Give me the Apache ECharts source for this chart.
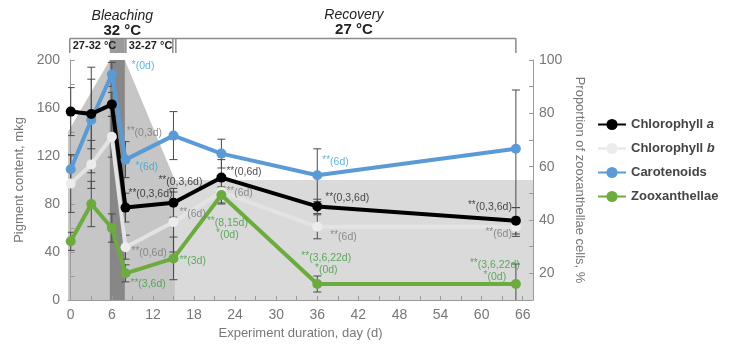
<!DOCTYPE html>
<html><head><meta charset="utf-8">
<script src="https://cdn.jsdelivr.net/npm/echarts@6/dist/echarts.min.js"></script>
<style>html,body{margin:0;padding:0;background:#fff}#c{width:731px;height:348px}</style>
</head><body><div id="c"></div>
<script>
// ---------- data ----------
const days = [0, 3, 6, 8, 15, 22, 36, 65];
const chlA = [157, 155, 163, 77, 81, 102, 78, 66];
const chlAErr = [20, 29, 10, 12, 12, 15, 6, 11];
const chlB = [97, 113, 136, 44, 65, 90, 61, 61];
const chlBErr = [24, 20, 17, 10, 25, 10, 10, 8];
const carot = [109, 150, 188, 117, 137, 122, 104, 126];
const carotErr = [12, 44, 10, 15, 20, 12, 22, 49];
const zoox = [32, 46, 37, 20, 25.6, 49.4, 16, 16];
const zooxErr = [3.4, 8.5, 5.3, 3.2, 8, 3, 3, 7.5];

const xLabelTicks = [0, 6, 12, 18, 24, 30, 36, 42, 48, 54, 60, 66];
const xMinorTicks = [0, 3, 6, 9, 12, 15, 18, 21, 24, 27, 30, 33, 36, 39, 42, 45, 48, 51, 54, 57, 60, 63, 66];
const leftLabels = [0, 40, 80, 120, 160, 200];
const leftTicks = [0, 20, 40, 60, 80, 100, 120, 140, 160, 180, 200];
const rightLabels = [20, 40, 60, 80, 100];
const rightTicks = [10, 20, 30, 40, 50, 60, 70, 80, 90, 100];

const seriesNames = ['Chlorophyll a', 'Chlorophyll b', 'Carotenoids', 'Zooxanthellae'];

// significance notes (text only)
const chlANotes = ['', '', '', '**(0,3,6d)', '**(0,3,6d)', '**(0,6d)', '**(0,3,6d)', '**(0,3,6d)'];
const chlBNotes = ['', '', '**(0,3d)', '**(0,6d)', '**(6d)', '**(6d)', '**(6d)', '**(6d)'];
const carotNotes = ['', '', '*(0d)', '*(6d)', '', '', '**(6d)', ''];
const zooxNotes = ['', '', '', '**(3,6d)', '**(3d)', '**(8,15d)\n*(0d)', '**(3,6,22d)\n*(0d)', '**(3,6,22d)\n*(0d)'];

// temperature regime (days)
const rampStart = 0, plateauStart = 5.7, plateauEnd = 7.9, bleachEnd = 15.2, recoveryEnd = 65;
const phaseTitles = ['Bleaching', '32 °C', 'Recovery', '27 °C'];
const subPhases = ['27-32 °C', '32-27 °C'];

// ---------- chart ----------
const X_MIN = -0.4, X_MAX = 67.5;
const FONT = 'Liberation Sans, Arial, sans-serif';
const chart = echarts.init(document.getElementById('c'), null, {renderer: 'canvas'});

function pairs(vals) { return days.map((d, i) => [d, vals[i]]); }

function errSeries(vals, errs, yIdx) {
  return {
    type: 'custom', yAxisIndex: yIdx, z: 3, silent: true, clip: true,
    data: days.map((d, i) => [d, vals[i] - errs[i], vals[i] + errs[i]]),
    encode: {x: 0, y: [1, 2]},
    renderItem: (p, api) => {
      const lo = api.coord([api.value(0), api.value(1)]);
      const hi = api.coord([api.value(0), api.value(2)]);
      const w = 4, st = {stroke: '#4a4a4a', lineWidth: 1};
      return {type: 'group', children: [
        {type: 'line', shape: {x1: lo[0], y1: lo[1], x2: hi[0], y2: hi[1]}, style: st},
        {type: 'line', shape: {x1: lo[0] - w, y1: lo[1], x2: lo[0] + w, y2: lo[1]}, style: st},
        {type: 'line', shape: {x1: hi[0] - w, y1: hi[1], x2: hi[0] + w, y2: hi[1]}, style: st}
      ]};
    }
  };
}

function noteSeries(vals, notes, layout, yIdx, color) {
  const data = [];
  notes.forEach((t, i) => {
    if (!t) return;
    const l = layout[i];
    const txt = t.split('\n').map(line => line.replace(/^(\*+)/, '{s|$1}')).join('\n');
    data.push({value: [days[i], vals[i]], label: {
      show: true, position: 'inside', formatter: txt, offset: [l[0], l[1]], align: l[2],
      verticalAlign: 'middle', color: color, fontSize: 10.5, fontFamily: FONT, lineHeight: 12,
      rich: {s: {fontSize: 10, color: color, fontFamily: FONT, padding: [0, 0, 3, 0], lineHeight: 12}}
    }});
  });
  return {type: 'scatter', yAxisIndex: yIdx, z: 6, silent: true, symbolSize: 1, data: data,
    itemStyle: {color: 'rgba(0,0,0,0)'}, clip: false, emphasis: {disabled: true}};
}

const shadeSeries = {
  type: 'custom', xAxisIndex: 0, yAxisIndex: 0, z: 0, silent: true, clip: true,
  data: [[0, 0]],
  renderItem: (p, api) => {
    const c = pt => api.coord(pt);
    return {type: 'group', children: [
      {type: 'polygon', shape: {points: [[X_MIN, 0], [X_MAX, 0], [X_MAX, 100], [X_MIN, 100]].map(c)}, style: {fill: '#dadada'}},
      {type: 'polygon', shape: {points: [[X_MIN, 0], [X_MIN, 140], [plateauStart, 200], [plateauEnd, 200], [bleachEnd, 100], [bleachEnd, 0]].map(c)}, style: {fill: '#c6c6c6'}},
      {type: 'polygon', shape: {points: [[plateauStart, 0], [plateauStart, 200], [plateauEnd, 200], [plateauEnd, 0]].map(c)}, style: {fill: '#878787'}}
    ]};
  }
};

function lineSeries(name, vals, yIdx, color, symColor) {
  return {name: name, type: 'line', yAxisIndex: yIdx, z: 4, data: pairs(vals),
    symbol: 'circle', symbolSize: 10, showSymbol: true,
    lineStyle: {color: color, width: 4}, itemStyle: {color: symColor || color},
    emphasis: {disabled: true}};
}

const axisGray = '#9a9a9a', labelGray = '#777';

const option = {
  animation: false,
  textStyle: {fontFamily: FONT},
  grid: {left: 68, top: 60, width: 465, height: 240},
  legend: {
    data: seriesNames, orient: 'vertical', left: 597, top: 118, padding: 0, itemWidth: 28, itemHeight: 14, itemGap: 11,
    formatter: n => n === 'Chlorophyll a' ? 'Chlorophyll {i|a}' : (n === 'Chlorophyll b' ? 'Chlorophyll {i|b}' : n),
    textStyle: {fontSize: 13, fontWeight: 'bold', color: '#444', fontFamily: FONT,
      rich: {i: {fontSize: 13, fontWeight: 'bold', fontStyle: 'italic', color: '#444', fontFamily: FONT}}}
  },
  xAxis: {
    type: 'value', min: X_MIN, max: X_MAX,
    name: 'Experiment duration, day (d)', nameLocation: 'middle', nameGap: 27,
    nameTextStyle: {fontSize: 13, color: labelGray},
    axisLine: {lineStyle: {color: axisGray}},
    axisTick: {inside: true, length: 4, lineStyle: {color: axisGray}, customValues: xMinorTicks},
    axisLabel: {fontSize: 14, color: labelGray, customValues: xLabelTicks, margin: 8},
    splitLine: {show: false}
  },
  yAxis: [{
    type: 'value', min: 0, max: 200, position: 'left',
    name: 'Pigment content, mkg', nameLocation: 'middle', nameGap: 38, nameRotate: 90,
    nameTextStyle: {fontSize: 13, color: labelGray},
    axisLine: {show: true, lineStyle: {color: axisGray}},
    axisTick: {show: true, inside: true, length: 4, lineStyle: {color: axisGray}, customValues: leftTicks},
    axisLabel: {fontSize: 14, color: labelGray, customValues: leftLabels, margin: 8},
    splitLine: {show: false}
  }, {
    type: 'value', min: 10, max: 100, position: 'right',
    name: 'Proportion of zooxanthellae cells, %', nameLocation: 'middle', nameGap: 31, nameRotate: -90,
    nameTextStyle: {fontSize: 13, color: labelGray},
    axisLine: {show: true, lineStyle: {color: axisGray}},
    axisTick: {show: true, inside: true, length: 4, lineStyle: {color: axisGray}, customValues: rightTicks},
    axisLabel: {fontSize: 14, color: labelGray, customValues: rightLabels, margin: 6},
    splitLine: {show: false}
  }],
  series: [
    shadeSeries,
    errSeries(chlA, chlAErr, 0), errSeries(chlB, chlBErr, 0), errSeries(carot, carotErr, 0), errSeries(zoox, zooxErr, 1),
    lineSeries(seriesNames[1], chlB, 0, '#e3e3e3', '#ececec'),
    lineSeries(seriesNames[3], zoox, 1, '#6cab3e'),
    lineSeries(seriesNames[2], carot, 0, '#5b9bd5'),
    lineSeries(seriesNames[0], chlA, 0, '#000000'),
    noteSeries(chlA, chlANotes, {3: [3, -13, 'left'], 4: [-15, -21, 'left'], 5: [5, -5, 'left'], 6: [8, -8, 'left'], 7: [-4, -14, 'right']}, 0, '#222'),
    noteSeries(chlB, chlBNotes, {2: [15, -4, 'left'], 3: [6, 6, 'left'], 4: [6, -8, 'left'], 5: [5, 1, 'left'], 6: [13, 10, 'left'], 7: [-4, 7, 'right']}, 0, '#777'),
    noteSeries(carot, carotNotes, {2: [20, -8, 'left'], 3: [10, 8, 'left'], 6: [5, -13, 'left']}, 0, '#3aa3cf'),
    noteSeries(zoox, zooxNotes, {3: [5, 11, 'left'], 4: [6, 3, 'left'], 5: [6, 34, 'center'], 6: [9, -20, 'center'], 7: [-21, -13, 'center']}, 1, '#3d9b3d')
  ]
};
chart.setOption(option);

// ---------- header brackets, placed from the x axis scale ----------
const px = d => chart.convertToPixel({xAxisIndex: 0}, d);
const yTop = 38.5, yBot = 53;
const hs = {stroke: '#8a8a8a', lineWidth: 1.5};
const x0 = px(rampStart) - 1, xp1 = px(plateauStart), xp2 = px(plateauEnd), xb = px(bleachEnd), xr = px(recoveryEnd), xm = px(X_MAX);
const graphic = [
  {type: 'rect', shape: {x: xp1, y: yTop, width: xp2 - xp1, height: yBot - yTop}, style: {fill: '#9b9b9b'}},
  {type: 'line', shape: {x1: x0, y1: yTop, x2: xr, y2: yTop}, style: hs},
  {type: 'line', shape: {x1: x0, y1: yTop, x2: x0, y2: yBot}, style: hs},
  {type: 'line', shape: {x1: xp2 + 1, y1: yTop, x2: xp2 + 1, y2: yBot}, style: hs},
  {type: 'line', shape: {x1: xb - 2, y1: yTop, x2: xb - 2, y2: yBot}, style: hs},
  {type: 'line', shape: {x1: xb + 1, y1: yTop, x2: xb + 1, y2: yBot}, style: hs},
  {type: 'line', shape: {x1: xr, y1: yTop, x2: xr, y2: yBot}, style: hs},
  {type: 'text', x: x0 + 3, y: 46, style: {text: subPhases[0], font: 'bold 11px ' + FONT, fill: '#222', verticalAlign: 'middle', align: 'left'}},
  {type: 'text', x: xp2 + 4, y: 46, style: {text: subPhases[1], font: 'bold 11px ' + FONT, fill: '#222', verticalAlign: 'middle', align: 'left'}},
  {type: 'text', x: (x0 + xb) / 2, y: 16, style: {text: phaseTitles[0], font: 'italic 14px ' + FONT, fill: '#222', align: 'center', verticalAlign: 'middle'}},
  {type: 'text', x: (x0 + xb) / 2, y: 31, style: {text: phaseTitles[1], font: 'bold 15px ' + FONT, fill: '#222', align: 'center', verticalAlign: 'middle'}},
  {type: 'text', x: (xb + xm) / 2, y: 15, style: {text: phaseTitles[2], font: 'italic 14px ' + FONT, fill: '#222', align: 'center', verticalAlign: 'middle'}},
  {type: 'text', x: (xb + xm) / 2, y: 30, style: {text: phaseTitles[3], font: 'bold 15px ' + FONT, fill: '#222', align: 'center', verticalAlign: 'middle'}}
];
chart.setOption({graphic: graphic});
</script>
</body></html>
